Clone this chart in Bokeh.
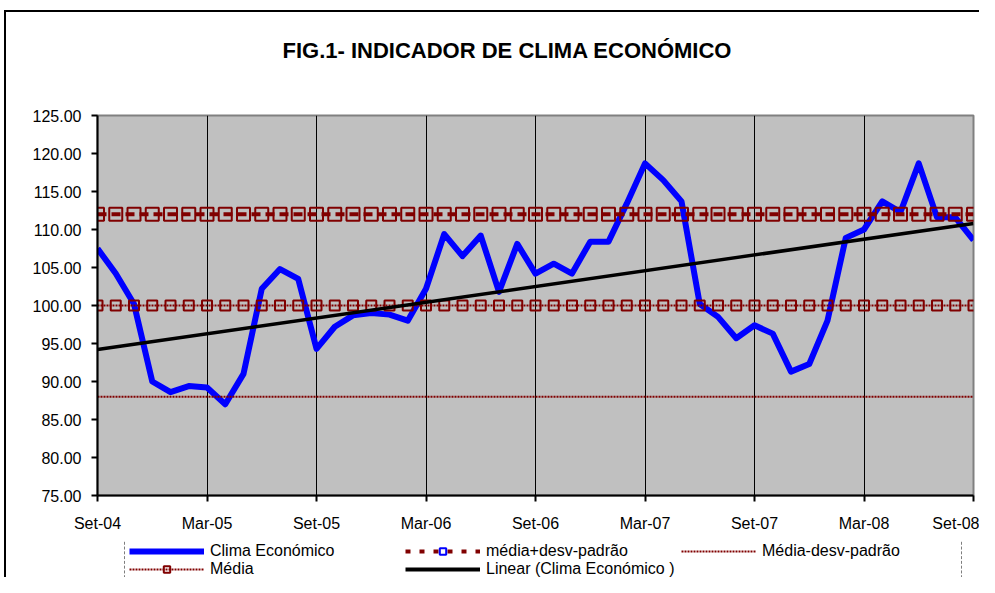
from bokeh.plotting import figure
from bokeh.layouts import column
from bokeh.models import (FixedTicker, PrintfTickFormatter, Legend, LegendItem,
                          ColumnDataSource, Range1d)
from bokeh.embed import file_html
from bokeh.resources import INLINE

# ---- data ----
tick_labels = ["Set-04", "Mar-05", "Set-05", "Mar-06", "Set-06",
               "Mar-07", "Set-07", "Mar-08", "Set-08"]
clima = [107.5, 104.2, 100.2, 90.0, 88.6, 89.4, 89.2, 87.0, 91.0, 102.2, 104.8, 103.5,
         94.3, 97.2, 98.7, 99.0, 98.8, 98.0, 102.2, 109.4, 106.5, 109.2, 101.8, 108.1,
         104.2, 105.5, 104.2, 108.4, 108.4, 113.4, 118.7, 116.5, 113.7, 100.2, 98.5, 95.7,
         97.4, 96.3, 91.3, 92.3, 98.0, 108.9, 110.0, 113.7, 112.3, 118.7, 111.6, 111.6, 108.6]
media = 100.0
media_mais_desv = 112.0
media_menos_desv = 88.0
trend_ends = [94.2, 110.8]
title_text = "FIG.1- INDICADOR DE CLIMA ECONÓMICO"
legend_labels = ["Clima Económico", "média+desv-padrão", "Média-desv-padrão",
                 "Média", "Linear (Clima Económico )"]

months = list(range(len(clima)))
n = len(clima)
FONT = "Liberation Sans"
DARKRED = "#800000"
BLUE = "#0000FF"

src = ColumnDataSource(dict(
    x=months, clima=clima,
    mais=[media_mais_desv] * n, med=[media] * n, menos=[media_menos_desv] * n))
trend_src = ColumnDataSource(dict(x=[months[0], months[-1]], y=trend_ends))

# ---------------- main chart ----------------
p = figure(width=979, height=541, output_backend="svg", toolbar_location=None,
           x_range=Range1d(0, n - 1), y_range=Range1d(75, 125),
           min_border_left=97, min_border_right=6, min_border_top=115, min_border_bottom=46)
p.background_fill_color = "#C0C0C0"
p.border_fill_alpha = 0
p.outline_line_color = "#808080"
p.outline_line_width = 2

# a trailing blank line lifts the visible title line higher in its panel
p.title.text = title_text + "\n "
p.title.text_font = FONT
p.title.text_font_style = "bold"
p.title.text_font_size = "22px"
p.title.text_color = "black"
p.title.align = "left"
p.title.offset = 185
p.title.standoff = 56

ticks = [6 * i for i in range(len(tick_labels))]
p.xaxis.ticker = FixedTicker(ticks=ticks)
p.xaxis.major_label_overrides = {t: lab for t, lab in zip(ticks, tick_labels)}
p.yaxis.ticker = FixedTicker(ticks=list(range(75, 126, 5)))
p.yaxis.formatter = PrintfTickFormatter(format="%.2f")
for ax in (p.xaxis, p.yaxis):
    ax.axis_line_color = "black"
    ax.axis_line_width = 2
    ax.major_tick_line_color = "black"
    ax.major_tick_line_width = 2
    ax.major_tick_out = 6
    ax.major_tick_in = 0
    ax.minor_tick_line_color = None
    ax.major_label_text_font = FONT
    ax.major_label_text_font_size = "16px"
    ax.major_label_text_color = "black"
p.yaxis.major_label_standoff = 10
p.xaxis.major_label_standoff = 13

p.xgrid.ticker = FixedTicker(ticks=ticks)
p.xgrid.grid_line_color = "black"
p.xgrid.grid_line_width = 1
p.ygrid.grid_line_color = None

p.line("x", "clima", source=src, line_color=BLUE, line_width=6, line_join="round")
p.line("x", "menos", source=src, line_color=DARKRED, line_width=2, line_dash="2 1")
p.line("x", "med", source=src, line_color=DARKRED, line_width=2, line_dash="2 1")
p.scatter("x", "med", source=src, marker="square", size=10, fill_color=None,
          line_color=DARKRED, line_width=2)
p.line("x", "mais", source=src, line_color=DARKRED, line_width=4, line_dash="9 5")
p.scatter("x", "mais", source=src, marker="square", size=13, fill_color=None,
          line_color=DARKRED, line_width=2)
p.line("x", "y", source=trend_src, line_color="black", line_width=3.5)

# ---------------- legend strip (frame aligned with the chart's frame) ----------------
lg = figure(width=979, height=36, output_backend="svg", toolbar_location=None,
            x_range=Range1d(0, 1), y_range=Range1d(0, 1),
            x_axis_location=None, y_axis_location=None,
            min_border_left=97, min_border_right=6, min_border_top=0, min_border_bottom=0)
lg.grid.visible = False
lg.outline_line_color = None
lg.background_fill_alpha = 0
lg.border_fill_alpha = 0

# legend-only sample glyphs (their single anchor lies outside the visible range)
hid = dict(x=[-5], y=[-5])
g_clima = lg.line(line_color=BLUE, line_width=6, **hid)
g_mais = lg.line(line_color=DARKRED, line_width=4, line_dash="5 9", **hid)
g_mais_mk = lg.scatter(marker="square", size=9, fill_color=None,
                       line_color=BLUE, line_width=2, **hid)
g_menos = lg.line(line_color=DARKRED, line_width=2, line_dash="2 1", **hid)
g_med = lg.line(line_color=DARKRED, line_width=2, line_dash="2 1", **hid)
g_med_mk = lg.scatter(marker="square", size=10, fill_color=None,
                      line_color=DARKRED, line_width=2, **hid)
g_trend = lg.line(line_color="black", line_width=4, **hid)

legend = Legend(items=[
    LegendItem(label=legend_labels[0], renderers=[g_clima]),
    LegendItem(label=legend_labels[1], renderers=[g_mais, g_mais_mk]),
    LegendItem(label=legend_labels[2], renderers=[g_menos]),
    LegendItem(label=legend_labels[3], renderers=[g_med, g_med_mk]),
    LegendItem(label=legend_labels[4], renderers=[g_trend]),
], orientation="horizontal", ncols=3, location=(27, -6), margin=0,
    glyph_width=75, glyph_height=16, label_height=16, label_width=195, label_standoff=6,
    spacing=0, padding=4, border_line_color="black", border_line_width=1,
    border_line_dash="2 2", background_fill_alpha=0,
    label_text_font=FONT, label_text_font_size="16px", label_text_color="black")
lg.add_layout(legend, "center")

layout = column(p, lg, spacing=0)
# outer chart frame (left and top edges) as background lines of the page block
layout.styles = {
    "background-color": "white",
    "background-image": "linear-gradient(#000,#000), linear-gradient(#000,#000)",
    "background-size": "2px 100%, 100% 2px",
    "background-position": "4px 10px, 4px 10px",
    "background-repeat": "no-repeat",
}

open("out.html", "w").write(file_html(layout, INLINE))
